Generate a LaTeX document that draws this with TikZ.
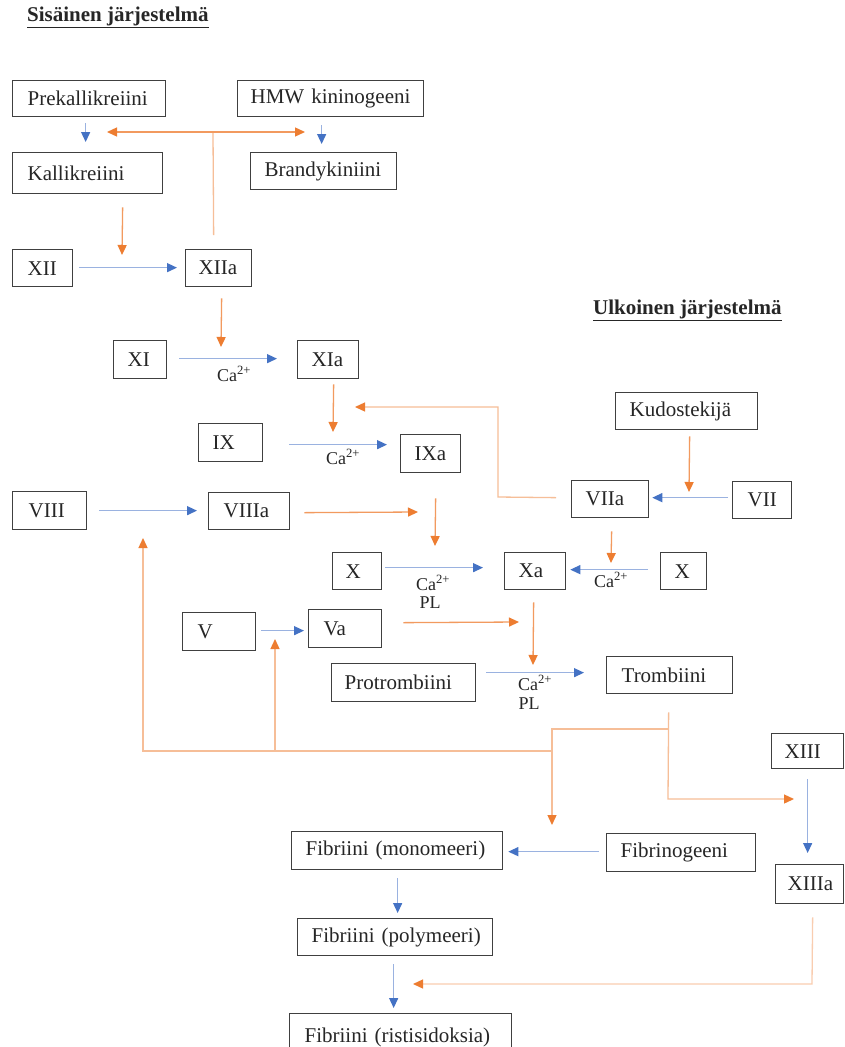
\documentclass[tikz,border=0pt]{standalone}
\usepackage{fontspec}
\setmainfont{Liberation Serif}
\usetikzlibrary{arrows.meta,calc}
\definecolor{bD}{HTML}{4472C4}
\definecolor{bL}{HTML}{9AB2E0}
\definecolor{oD}{HTML}{ED7D31}
\definecolor{oM}{HTML}{F29A5F}
\definecolor{oL}{HTML}{F6BE98}
\definecolor{oP}{HTML}{F9CDB0}
\definecolor{bord}{HTML}{404040}
\definecolor{txt}{HTML}{262626}
\tikzset{
 box/.style={draw=bord, line width=1.3pt, anchor=north west, inner xsep=0pt, inner ysep=0pt, align=left, text=txt, font=\fontsize{21}{25}\selectfont},
 bl/.style={draw=bL, line width=1.3pt, -{Triangle[length=10pt,width=9pt,color=bD]}},
 ol/.style={draw=oM, line width=1.3pt, -{Triangle[length=10pt,width=9pt,color=oD]}},
 olp/.style={draw=oL, line width=1.3pt, -{Triangle[length=10pt,width=9pt,color=oD]}},
 olpp/.style={draw=oP, line width=1.3pt, -{Triangle[length=10pt,width=9pt,color=oD]}},
 lab/.style={text=txt, font=\fontsize{18}{20}\selectfont, inner sep=0pt},
 ttl/.style={text=txt, font=\bfseries\fontsize{21}{25}\selectfont, anchor=west, inner sep=0pt}
}
\newcommand\bx[7]{\pgfmathsetmacro\bxw{#4-#2}\pgfmathsetmacro\bxh{#5-#3}\pgfmathsetmacro\bxi{#6-#2}\node[box, text width=\bxw pt, minimum height=\bxh pt] (#1) at (#2,#3) {\hspace*{\bxi pt}#7};}
\begin{document}
\begin{tikzpicture}[x=1pt,y=-1pt]
\fill[white] (0,0) rectangle (844,1047);
\useasboundingbox (0,0) rectangle (844,1047);
% titles
\node[ttl] (tin) at (27,17) {\underline{Sisäinen järjestelmä}};
\node[ttl] (tout) at (593,310) {\underline{Ulkoinen järjestelmä}};
% boxes
\bx{prek}{12}{80}{165}{116}{27}{Prekallikreiini}
\bx{hmw}{237}{80}{423}{116}{250}{HMW kininogeeni}
\bx{kal}{12}{152}{162}{193}{27}{Kallikreiini}
\bx{bra}{250}{152}{396}{189}{264}{Brandykiniini}
\bx{xii}{12}{249}{72}{286}{27}{XII}
\bx{xiia}{185}{249}{251}{286}{198}{XIIa}
\bx{xi}{113}{340}{166}{378}{127}{XI}
\bx{xia}{297}{340}{358}{378}{311}{XIa}
\bx{ix}{198}{423}{262}{461}{212}{IX}
\bx{ixa}{400}{434}{460}{472}{414}{IXa}
\bx{viii}{12}{491}{86}{529}{28}{VIII}
\bx{viiia}{208}{492}{289}{529}{223}{VIIIa}
\bx{kud}{615}{392}{757}{429}{629}{Kudostekijä}
\bx{viia}{571}{480}{648}{517}{585}{VIIa}
\bx{vii}{732}{481}{791}{518}{747}{VII}
\bx{xl}{332}{552}{381}{589}{345}{X}
\bx{xa}{504}{552}{565}{589}{518}{Xa}
\bx{xr}{660}{552}{706}{589}{674}{X}
\bx{fv}{182}{612}{255}{650}{197}{V}
\bx{va}{308}{609}{381}{647}{323}{Va}
\bx{prot}{331}{663}{475}{701}{344}{Protrombiini}
\bx{trom}{606}{656}{732}{693}{621}{Trombiini}
\bx{xiii}{771}{733}{843}{768}{784}{XIII}
\bx{fibr}{606}{833}{755}{871}{620}{Fibrinogeeni}
\bx{xiiia}{775}{864}{843}{903}{787}{XIIIa}
\bx{mono}{291}{831}{502}{869}{305}{Fibriini (monomeeri)}
\bx{poly}{297}{918}{492}{955}{311}{Fibriini (polymeeri)}
\bx{rist}{289}{1013}{511}{1060}{304}{Fibriini (ristisidoksia)}
% labels
\node[lab] (ca1) at (234,374) {Ca\textsuperscript{2+}};
\node[lab] (ca2) at (343,457) {Ca\textsuperscript{2+}};
\node[lab] (ca3) at (433,583) {Ca\textsuperscript{2+}};
\node[lab] (pl3) at (430,603) {PL};
\node[lab] (ca4) at (611,580) {Ca\textsuperscript{2+}};
\node[lab] (ca5) at (535,683) {Ca\textsuperscript{2+}};
\node[lab] (pl5) at (529,704) {PL};
% coordinates (junctions and free ends)
\coordinate (j1) at (213,132);
\coordinate (t1) at (107,132);
\coordinate (t2) at (305,132);
\coordinate (t3) at (122,255);
\coordinate (t4) at (221,347);
\coordinate (t5) at (333,432);
\coordinate (c5a) at (498,497);
\coordinate (c5b) at (498,407);
\coordinate (t6) at (355,407);
\coordinate (t7) at (689,492);
\coordinate (t8) at (418,512);
\coordinate (t9) at (435,546);
\coordinate (t10) at (611,563);
\coordinate (t11) at (519,622);
\coordinate (t12) at (533,665);
\coordinate (k1) at (668,729);
\coordinate (k2) at (668,799);
\coordinate (t13) at (794,799);
\coordinate (k3) at (552,729);
\coordinate (t14) at (552,825);
\coordinate (k4) at (552,751);
\coordinate (k5) at (143,751);
\coordinate (t15) at (143,538);
\coordinate (k6) at (275,751);
\coordinate (t16) at (275,639);
\coordinate (k7) at (812,984);
\coordinate (t17) at (413,984);
% blue arrows
\draw[bl] ($(prek.south)+(-3.5,6)$) -- ($(prek.south|-kal.north)+(-3.5,-10)$);
\draw[bl] ($(hmw.south)+(-9,8)$) -- ($(hmw.south|-bra.north)+(-9,-8)$);
\draw[bl] ($(xii.east)+(6,-0.5)$) -- ($(xiia.west|-xii.east)+(-8,-0.5)$);
\draw[bl] ($(xi.east)+(12,-1)$) -- ($(xia.west|-xi.east)+(-20,-1)$);
\draw[bl] ($(ix.east)+(26,2)$) -- ($(ixa.west|-ix.east)+(-13,2)$);
\draw[bl] ($(viii.east)+(12,0)$) -- ($(viiia.west|-viii.east)+(-11,0)$);
\draw[bl] ($(vii.west)+(-4,-2.5)$) -- ($(viia.east|-vii.west)+(3,-2.5)$);
\draw[bl] ($(xl.east)+(3,-3.5)$) -- ($(xa.west|-xl.east)+(-21,-3.5)$);
\draw[bl] ($(xr.west)+(-12,-1.5)$) -- ($(xa.east|-xr.west)+(4,-1.5)$);
\draw[bl] ($(fv.east)+(5,-1)$) -- ($(va.west|-fv.east)+(-4,-1)$);
\draw[bl] ($(prot.east|-trom.west)+(10,-2.5)$) -- ($(trom.west)+(-22,-2.5)$);
\draw[bl] ($(fibr.west)+(-7,-1)$) -- ($(mono.east|-fibr.west)+(5,-1)$);
\draw[bl] ($(xiii.south)+(0,10)$) -- ($(xiii.south|-xiiia.north)+(0,-11)$);
\draw[bl] ($(mono.south)+(0.5,8)$) -- ($(mono.south|-poly.north)+(0.5,-5)$);
\draw[bl] ($(poly.south)+(-1.5,8)$) -- ($(poly.south|-rist.north)+(-1.5,-5)$);
% orange arrows
\draw[olp, -] ($(xiia.north)+(-5,-14)$) -- (j1);
\draw[ol] (j1) -- (t1);
\draw[ol] (j1) -- (t2);
\draw[ol] ($(kal.south)+(35,13)$) -- (t3);
\draw[ol] ($(xiia.south)+(3,11)$) -- (t4);
\draw[ol] ($(xia.south)+(5.5,5)$) -- (t5);
\draw[olp] ($(viia.west)+(-15,-1.5)$) -- (c5a) -- (c5b) -- (t6);
\draw[ol] ($(kud.south)+(3,6)$) -- (t7);
\draw[ol] ($(viiia.east)+(14,1.5)$) -- (t8);
\draw[ol] ($(ixa.south)+(5,25)$) -- (t9);
\draw[ol] ($(viia.south)+(1.5,13)$) -- (t10);
\draw[ol] ($(va.east)+(21,-6)$) -- (t11);
\draw[ol] ($(xa.south)+(-1.5,12)$) -- (t12);
\draw[olp] ($(trom.south)+(-1,18)$) -- (k2) -- (t13);
\draw[olp] (k1) -- (k3) -- (t14);
\draw[olp] (k4) -- (k5) -- (t15);
\draw[olp] (k6) -- (t16);
\draw[olpp] ($(xiiia.south)+(3,13)$) -- (k7) -- (t17);
\end{tikzpicture}
\end{document}
